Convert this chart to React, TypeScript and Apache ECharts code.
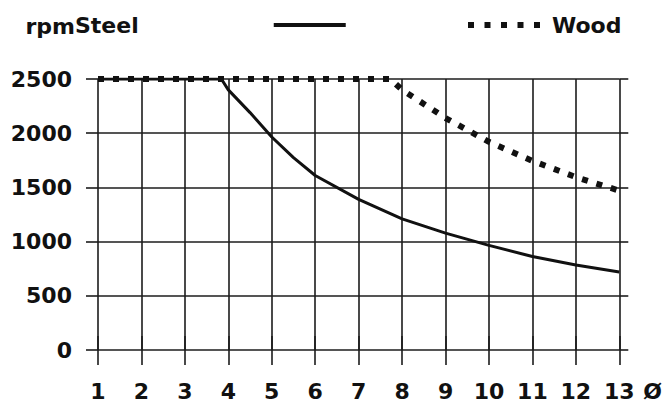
import { useEffect, useRef } from 'react';
import * as echarts from 'echarts';

const xTicks = [1, 13];
const rpmTicks = [0, 2500, 500];

const steelDia = [1, 2, 3, 3.84, 4, 4.5, 5, 5.5, 6, 7, 8, 9, 10, 11, 12, 13];
const steelRpm = [2500, 2500, 2500, 2500, 2400, 2190, 1965, 1775, 1610, 1390, 1210, 1078, 965, 862, 785, 720];

const woodDia = [1, 2, 3, 4, 5, 6, 7, 7.73, 8, 9, 10, 11, 12, 13];
const woodRpm = [2500, 2500, 2500, 2500, 2500, 2500, 2500, 2500, 2400, 2140, 1920, 1745, 1595, 1470];

const FONT = 'DejaVu Sans';
const INK = '#111';
const WOOD_ICON = 'path://M0,0h6v6h-6zM16.5,0h6v6h-6zM33,0h6v6h-6zM49.5,0h6v6h-6zM66,0h6v6h-6z';

function pairs(xs: number[], ys: number[]) {
  return xs.map((x, i) => [x, ys[i]]);
}

function buildOption(): echarts.EChartsOption {
  const text = { fontFamily: FONT, fontWeight: 'bold' as const, fontSize: 22, color: INK };
  const grid = { lineStyle: { color: '#1c1c1c', width: 1.6 } };
  return {
    animation: false,
    backgroundColor: '#fff',
    grid: { left: 98, right: 43, top: 79, bottom: 54 },
    legend: [
      {
        data: ['Steel'],
        left: 70,
        top: 9,
        align: 'right',
        icon: 'rect',
        itemWidth: 72,
        itemHeight: 4,
        textStyle: { ...text, padding: [0, 130, 0, 0] }
      },
      {
        data: ['Wood'],
        left: 463,
        top: 9,
        align: 'left',
        icon: WOOD_ICON,
        itemWidth: 72,
        itemHeight: 6,
        textStyle: { ...text, padding: [0, 0, 0, 7] }
      }
    ],
    xAxis: [
      {
        type: 'value',
        min: xTicks[0],
        max: xTicks[1],
        interval: 1,
        name: 'Ø',
        nameLocation: 'end',
        nameGap: 24,
        nameTextStyle: { ...text, verticalAlign: 'top', padding: [30, 0, 0, 0] },
        axisLine: { show: false },
        axisTick: { show: true, inside: false, length: 15, lineStyle: grid.lineStyle },
        axisLabel: { ...text, margin: 30 },
        splitLine: { show: true, ...grid }
      },
      {
        type: 'value',
        position: 'top',
        min: xTicks[0],
        max: xTicks[1],
        interval: 1,
        axisLine: { show: false },
        axisTick: { show: true, length: 14, lineStyle: grid.lineStyle },
        axisLabel: { show: false },
        splitLine: { show: false }
      }
    ],
    yAxis: [
      {
        type: 'value',
        min: rpmTicks[0],
        max: rpmTicks[1],
        interval: rpmTicks[2],
        name: 'rpm',
        nameLocation: 'end',
        nameGap: 42,
        nameTextStyle: { ...text, align: 'right', padding: [0, 23, 0, 0] },
        axisLine: { show: false },
        axisTick: { show: true, length: 12, lineStyle: grid.lineStyle },
        axisLabel: { ...text, margin: 26, formatter: (v: number) => String(v) },
        splitLine: { show: true, ...grid }
      },
      {
        type: 'value',
        position: 'right',
        min: rpmTicks[0],
        max: rpmTicks[1],
        interval: rpmTicks[2],
        axisLine: { show: false },
        axisTick: { show: true, length: 9, lineStyle: grid.lineStyle },
        axisLabel: { show: false },
        splitLine: { show: false }
      }
    ],
    series: [
      {
        name: 'Steel',
        type: 'line',
        data: pairs(steelDia, steelRpm),
        symbol: 'none',
        color: INK,
        lineStyle: { color: INK, width: 3 },
        z: 3
      },
      {
        name: 'Wood',
        type: 'line',
        data: pairs(woodDia, woodRpm),
        symbol: 'none',
        color: INK,
        lineStyle: { color: INK, width: 6, type: [6, 9], cap: 'butt' },
        z: 4
      }
    ]
  };
}

export default function App() {
  const ref = useRef<HTMLDivElement | null>(null);

  useEffect(() => {
    if (!ref.current) return undefined;
    const chart = echarts.init(ref.current, undefined, { renderer: 'svg' });
    chart.setOption(buildOption());
    return () => chart.dispose();
  }, []);

  return (
    <div
      ref={ref}
      style={{ position: 'fixed', left: 0, top: 0, width: 665, height: 404, background: '#fff' }}
    />
  );
}
